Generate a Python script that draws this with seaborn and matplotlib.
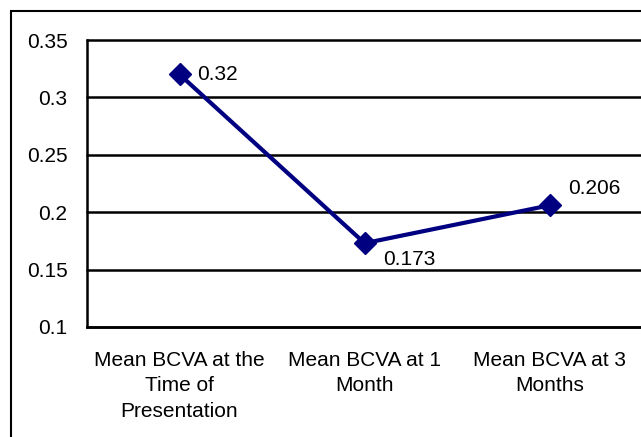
import numpy as np
import pandas as pd
import matplotlib
matplotlib.use("Agg")
import matplotlib.pyplot as plt
import seaborn as sns
from matplotlib.patches import Rectangle

categories = ["Mean BCVA at the\nTime of\nPresentation",
              "Mean BCVA at 1\nMonth",
              "Mean BCVA at 3\nMonths"]
bcva = [0.32, 0.173, 0.206]
value_labels = ["0.32", "0.173", "0.206"]
yticks = [0.1, 0.15, 0.2, 0.25, 0.3, 0.35]
ytick_labels = ["0.1", "0.15", "0.2", "0.25", "0.3", "0.35"]

df = pd.DataFrame({"Visit": categories, "BCVA": bcva})

sns.set_style("white")
plt.rcParams["font.family"] = ["Liberation Sans", "DejaVu Sans"]
plt.rcParams["font.size"] = 15
plt.rcParams["text.color"] = "black"
plt.rcParams["xtick.color"] = "black"
plt.rcParams["ytick.color"] = "black"

fig = plt.figure(figsize=(6.41, 4.37), dpi=100)
ax = fig.add_axes([87 / 641, 1 - 327 / 437, 1.0 - 87 / 641 + 0.002, (327 - 40) / 437])

sns.lineplot(data=df, x="Visit", y="BCVA", ax=ax, color="#000080",
             marker="D", markersize=11, linewidth=3, sort=False,
             markeredgecolor="#000080", markeredgewidth=1)

# data labels
offsets = [(13, 0), (13, -12), (13, 12)]
for i, (v, lab) in enumerate(zip(bcva, value_labels)):
    dx, dy = offsets[i]
    ax.annotate(lab, (i, v), xytext=(dx, dy), textcoords="offset points",
                ha="left", va="center", fontsize=15, color="black")

ax.set_xlim(-0.5, 2.5)
ax.set_ylim(0.1, 0.35)
ax.set_yticks(yticks)
ax.set_yticklabels(ytick_labels)
ax.yaxis.grid(True, color="black", linewidth=1.8)
for gl in ax.yaxis.get_gridlines():
    gl.set_clip_on(False)
ax.set_axisbelow(True)

# category labels centred, tick marks on category boundaries
ax.set_xticks([-0.5, 0.5, 1.5, 2.5])
ax.set_xticklabels([])
ax.set_xticks([0, 1, 2], minor=True)
ax.set_xticklabels(categories, minor=True, linespacing=1.45)
ax.tick_params(axis="x", which="minor", length=0, pad=17)
ax.tick_params(axis="x", which="major", length=4, width=1.6, direction="out", color="black")
ax.tick_params(axis="y", length=4, width=1.6, direction="out", color="black", pad=10)
ax.tick_params(axis="both", which="both", labelsize=15, labelcolor="black")

ax.set_xlabel("")
ax.set_ylabel("")
for s in ["top", "right"]:
    ax.spines[s].set_visible(False)
for s in ["left", "bottom"]:
    ax.spines[s].set_color("black")
    ax.spines[s].set_linewidth(1.8)

# outer chart border
fig.patches.append(Rectangle((11 / 641, -0.1), 1.2, 1 - 11 / 437 + 0.1,
                             transform=fig.transFigure, fill=False,
                             edgecolor="black", linewidth=1.5))

fig.savefig("out.png", dpi=100)
